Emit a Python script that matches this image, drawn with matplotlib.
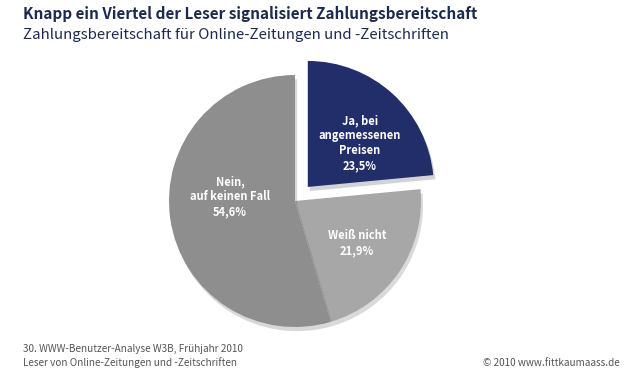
import numpy as np
import matplotlib.pyplot as plt
import matplotlib.patheffects as pe

# Data
labels = ['Ja, bei\nangemessenen\nPreisen', 'Weiß nicht', 'Nein,\nauf keinen Fall']
shares = [23.5, 21.9, 54.6]
colors = ['#212e6a', '#a7a7a7', '#8e8e8e']

title = 'Knapp ein Viertel der Leser signalisiert Zahlungsbereitschaft'
subtitle = 'Zahlungsbereitschaft für Online-Zeitungen und -Zeitschriften'
source = '30. WWW-Benutzer-Analyse W3B, Frühjahr 2010\nLeser von Online-Zeitungen und -Zeitschriften'
credit = '© 2010 www.fittkaumaass.de'

font = ['Noto Sans CJK JP', 'DejaVu Sans']

fig = plt.figure(figsize=(6.31, 3.75), dpi=100)
ax = fig.add_axes([0, 0, 1, 1])

explode = [19, 0, 0]
wedges, _ = ax.pie(shares, colors=colors, explode=explode, startangle=90,
                   counterclock=False, center=(295, 174), radius=126,
                   wedgeprops=dict(linewidth=0))
for w in wedges:
    w.set_path_effects([pe.SimplePatchShadow(offset=(1.5, -3), alpha=0.18), pe.Normal()])

ax.set_xlim(0, 631)
ax.set_ylim(0, 375)
ax.set_aspect('equal')
ax.axis('off')

# label placement (angle in degrees, distance in px from wedge centre)
label_ang = [40, -34, 176]
label_dist = [68, 75, 65]
for w, lab, val, a, d in zip(wedges, labels, shares, label_ang, label_dist):
    cx, cy = w.center
    txt = lab + '\n' + f'{val:.1f}%'.replace('.', ',')
    ax.text(cx + d * np.cos(np.radians(a)), cy + d * np.sin(np.radians(a)), txt,
            ha='center', va='center', color='white', fontsize=8,
            fontweight='bold', family=font, linespacing=1.2)

fig.text(23 / 631, 1 - 14 / 375, title, fontsize=11, fontweight='bold',
         color='#1b2a4e', family=font, va='center', ha='left')
fig.text(23 / 631, 1 - 35 / 375, subtitle, fontsize=10.8, color='#1b2a4e',
         family=font, va='center', ha='left')
fig.text(23 / 631, 1 - 356 / 375, source, fontsize=7.2, color='#555555',
         family=font, va='center', ha='left', linespacing=1.25)
fig.text(620 / 631, 1 - 363 / 375, credit, fontsize=7.2, color='#555555',
         family=font, va='center', ha='right')

fig.savefig('out.png', dpi=100, facecolor='white')
